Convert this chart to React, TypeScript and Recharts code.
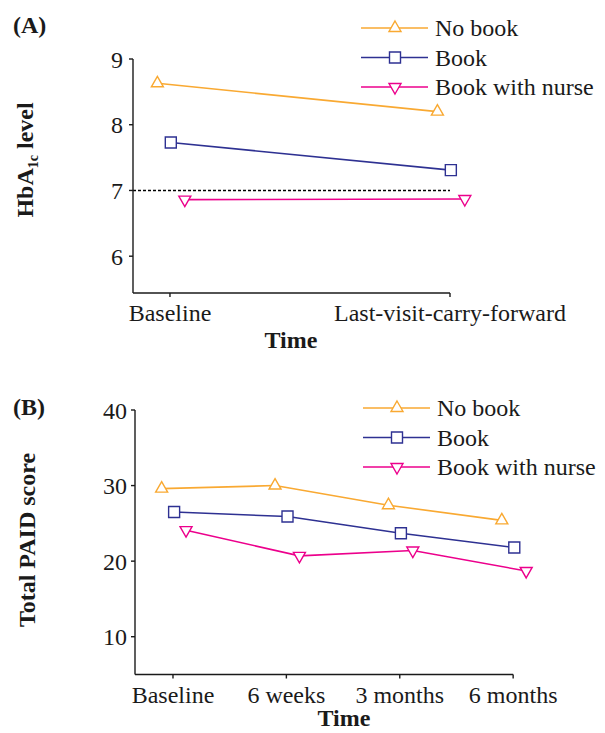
import { LineChart, Line, XAxis, YAxis, Legend, ReferenceLine, Label } from 'recharts'

const FONT = '"Liberation Serif", "Times New Roman", serif'
const INK = '#1a1a1a'

// groups
const groups = ['No book', 'Book', 'Book with nurse']
const colors = ['#F9A932', '#2E3192', '#EC008C']
const shapes = ['up', 'square', 'down']

// panel A: HbA1c
const timeA = ['Baseline', 'Last-visit-carry-forward']
const noBookA = [8.63, 8.2]
const bookA = [7.73, 7.31]
const nurseA = [6.86, 6.87]
const targetA = 7

// panel B: PAID
const timeB = ['Baseline', '6 weeks', '3 months', '6 months']
const noBookB = [29.6, 30.0, 27.4, 25.4]
const bookB = [26.5, 25.9, 23.7, 21.8]
const nurseB = [24.1, 20.7, 21.4, 18.7]

function markerPath(shape: string, cx: number, cy: number) {
    const w = 6, h = 10.5
    if (shape === 'square') return `M${cx - 5.5},${cy - 5.5}h11v11h-11z`
    if (shape === 'up') return `M${cx},${cy - 2 * h / 3}L${cx + w},${cy + h / 3}L${cx - w},${cy + h / 3}Z`
    return `M${cx},${cy + 2 * h / 3}L${cx + w},${cy - h / 3}L${cx - w},${cy - h / 3}Z`
}

const makeDot = (shape: string, color: string, name: string) => (props: any) => {
    const { cx, cy, index } = props
    if (cx == null || cy == null) return <g key={`${name}-${index}`} />
    return (
        <path key={`${name}-${index}`} d={markerPath(shape, cx, cy)}
            fill="#fff" stroke={color} strokeWidth={1.4} />
    )
}

const renderLegend = () => (
    <svg width={250} height={110} style={{ display: 'block' }}>
        {groups.map((g, i) => {
            const y = 28 + i * 29.5
            return (
                <g key={g}>
                    <line x1={6} x2={73} y1={y} y2={y} stroke={colors[i]} strokeWidth={1.6} />
                    <path d={markerPath(shapes[i], 40, y)} fill="#fff" stroke={colors[i]} strokeWidth={1.4} />
                    <text x={80} y={y + 8} fontSize={24} fontFamily={FONT} fill={INK}>{g}</text>
                </g>
            )
        })}
    </svg>
)

type PanelProps = {
    top: number
    height: number
    letter: string
    letterY: number
    cats: string[]
    series: number[][]
    offsets: number[]
    xDomain: [number, number]
    yDomain: [number, number]
    yTicks: number[]
    margin: any
    xHeight: number
    yWidth: number
    yTitle: (cx: number, cy: number) => any
    yTitleX: number
    yTitleY: number
    timeX: number
    timeY: number
    legendLeft: number
    tickMargin: number
    target?: number
}

function Panel(p: PanelProps) {
    const xTicks = p.cats.map((_, i) => i)
    return (
        <div style={{ position: 'absolute', left: 0, top: p.top }}>
            <LineChart width={605} height={p.height} margin={p.margin}>
                <XAxis dataKey="x" type="number" domain={p.xDomain} allowDataOverflow
                    ticks={xTicks} interval={0} tickFormatter={(v: number) => p.cats[v] ?? ''}
                    axisLine={false} tickLine={{ stroke: INK, strokeWidth: 1.4 }} tickSize={4} tickMargin={7}
                    height={p.xHeight} tick={{ fontSize: 24, fill: INK, fontFamily: FONT }}>
                    <Label content={() => (
                        <text x={p.timeX} y={p.timeY} textAnchor="middle" fontSize={24}
                            fontWeight="bold" fontFamily={FONT} fill={INK}>Time</text>
                    )} />
                </XAxis>
                <YAxis type="number" domain={p.yDomain} allowDataOverflow ticks={p.yTicks} interval={0}
                    width={p.yWidth} axisLine={{ stroke: INK, strokeWidth: 1.4 }}
                    tickLine={{ stroke: INK, strokeWidth: 1.4 }} tickSize={4} tickMargin={p.tickMargin}
                    tick={{ fontSize: 24, fill: INK, fontFamily: FONT }}>
                    <Label content={() => (
                        <g>
                            <text x={13} y={p.letterY} fontSize={24} fontWeight="bold" fontFamily={FONT} fill={INK}>{p.letter}</text>
                            {p.yTitle(p.yTitleX, p.yTitleY)}
                        </g>
                    )} />
                </YAxis>
                <ReferenceLine ifOverflow="visible" stroke={INK} strokeWidth={1.4}
                    segment={[{ x: p.xDomain[0], y: p.yDomain[0] }, { x: p.cats.length - 1, y: p.yDomain[0] }]} />
                {p.target != null && (
                    <ReferenceLine ifOverflow="visible" stroke="#000" strokeWidth={1.5} strokeDasharray="3 2"
                        segment={[{ x: p.xDomain[0], y: p.target }, { x: p.cats.length - 1, y: p.target }]} />
                )}
                {p.series.map((vals, si) => (
                    <Line key={groups[si]} name={groups[si]} dataKey="y" type="linear"
                        data={vals.map((v, i) => ({ x: i + p.offsets[si], y: v }))}
                        stroke={colors[si]} strokeWidth={1.6} isAnimationActive={false}
                        dot={makeDot(shapes[si], colors[si], groups[si])} activeDot={false} />
                ))}
                <Legend layout="vertical" align="center" verticalAlign="middle" content={renderLegend}
                    wrapperStyle={{ left: p.legendLeft, top: 0, width: 250, height: 110 }} />
            </LineChart>
        </div>
    )
}

export default function App() {
    return (
        <div style={{ position: 'absolute', left: 0, top: 0, width: 605, height: 733, background: '#fff', fontFamily: FONT }}>
            <Panel top={0} height={360} letter="(A)" letterY={33}
                cats={timeA} series={[noBookA, bookA, nurseA]} offsets={[-0.045, 0.003, 0.053]}
                xDomain={[-0.132, 1.1]} yDomain={[5.44, 9]} yTicks={[6, 7, 8, 9]}
                margin={{ top: 59, bottom: 7, left: 0, right: 127 }} xHeight={60} yWidth={133}
                tickMargin={6} target={targetA}
                yTitleX={33} yTitleY={160}
                yTitle={(x: number, y: number) => (
                    <text x={x} y={y} transform={`rotate(-90, ${x}, ${y})`} textAnchor="middle"
                        fontSize={24} fontWeight="bold" fontFamily={FONT} fill={INK}>
                        HbA<tspan fontSize={14} dy={5}>1c</tspan><tspan dy={-5}> level</tspan>
                    </text>
                )}
                timeX={291} timeY={348} legendLeft={355} />
            <Panel top={380} height={353} letter="(B)" letterY={35}
                cats={timeB} series={[noBookB, bookB, nurseB]} offsets={[-0.1, 0.01, 0.115]}
                xDomain={[-0.335, 3.25]} yDomain={[5, 40]} yTicks={[10, 20, 30, 40]}
                margin={{ top: 30, bottom: 8.5, left: 0, right: 63.5 }} xHeight={50} yWidth={135}
                tickMargin={4}
                yTitleX={35} yTitleY={160}
                yTitle={(x: number, y: number) => (
                    <text x={x} y={y} transform={`rotate(-90, ${x}, ${y})`} textAnchor="middle"
                        fontSize={24} fontWeight="bold" fontFamily={FONT} fill={INK}>Total PAID score</text>
                )}
                timeX={344} timeY={346} legendLeft={357} />
        </div>
    )
}
